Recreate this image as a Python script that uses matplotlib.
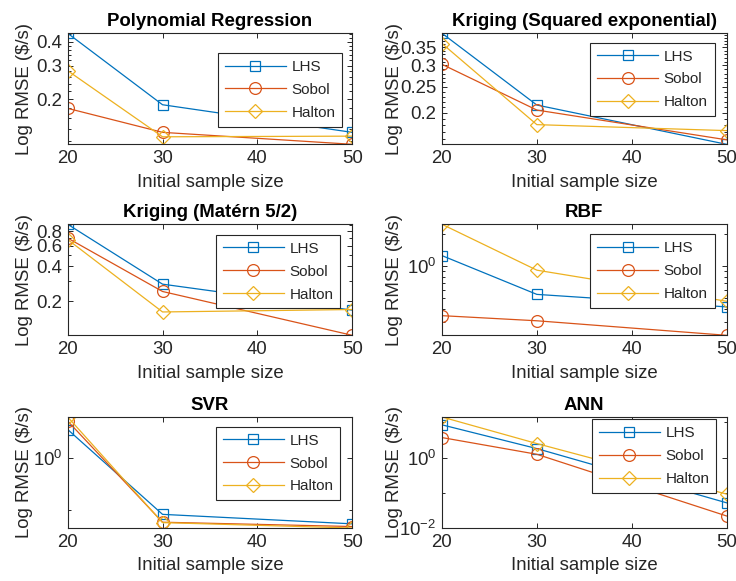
import numpy as np
import matplotlib
matplotlib.use('Agg')
import matplotlib.pyplot as plt
from matplotlib.ticker import FixedLocator, FuncFormatter, NullFormatter

plt.rcParams['font.family'] = ['Liberation Sans', 'DejaVu Sans']
plt.rcParams['mathtext.fontset'] = 'custom'
plt.rcParams['mathtext.rm'] = 'Liberation Sans'
plt.rcParams['mathtext.it'] = 'Liberation Sans:italic'

# sample sizes and RMSE values
sizes = [20, 30, 50]
titles = ['Polynomial Regression', 'Kriging (Squared exponential)',
          'Kriging (Matérn 5/2)', 'RBF', 'SVR', 'ANN']
labels = ['LHS', 'Sobol', 'Halton']

poly_lhs = [0.443, 0.187, 0.134]
poly_sobol = [0.179, 0.134, 0.116]
poly_halton = [0.282, 0.127, 0.128]

kse_lhs = [0.395, 0.214, 0.153]
kse_sobol = [0.303, 0.205, 0.159]
kse_halton = [0.362, 0.181, 0.172]

kmat_lhs = [0.92, 0.281, 0.168]
kmat_sobol = [0.70, 0.243, 0.102]
kmat_halton = [0.68, 0.162, 0.170]

rbf_lhs = [1.26, 0.545, 0.416]
rbf_sobol = [0.344, 0.308, 0.225]
rbf_halton = [2.48, 0.92, 0.47]

svr_lhs = [3.6, 0.081, 0.053]
svr_sobol = [5.25, 0.057, 0.047]
svr_halton = [6.3, 0.056, 0.044]

ann_lhs = [8.5, 1.8, 0.052]
ann_sobol = [3.7, 1.24, 0.022]
ann_halton = [14.2, 2.5, 0.092]

series = [
    [poly_lhs, poly_sobol, poly_halton],
    [kse_lhs, kse_sobol, kse_halton],
    [kmat_lhs, kmat_sobol, kmat_halton],
    [rbf_lhs, rbf_sobol, rbf_halton],
    [svr_lhs, svr_sobol, svr_halton],
    [ann_lhs, ann_sobol, ann_halton],
]

major_ticks = [[0.2, 0.3, 0.4], [0.2, 0.25, 0.3, 0.35], [0.2, 0.4, 0.6, 0.8],
               [1.0], [1.0], [0.01, 1.0]]
minor_ticks = [np.arange(0.10, 0.46, 0.02), np.arange(0.15, 0.41, 0.01),
               np.arange(0.1, 1.0, 0.1),
               [0.2, 0.3, 0.4, 0.5, 0.6, 0.7, 0.8, 0.9, 2, 3],
               [0.1, 10], [0.1, 10]]
power_labels = [False, False, False, True, True, True]
ylim_low = [None, None, None, None, None, 0.01]

colors = ['#0072BD', '#D95319', '#EDB120']
markers = ['s', 'o', 'D']
msizes = [7.5, 8.5, 7.5]
dark = '#262626'

# layout (figure pixels) of the axes and legends
ax_left = [67.7, 442]
ax_top = [33.3, 224.3, 417]
ax_w, ax_h = 284.5, 111
leg_anchor = [(0.965, 0.822), (0.958, 0.915), (0.958, 0.904),
              (0.958, 0.910), (0.958, 0.912), (0.964, 0.979)]
ylab_x = [-0.123, -0.138]

W, H = 736, 581
fig = plt.figure(figsize=(W / 100, H / 100), dpi=100)

for i in range(6):
    r, c = divmod(i, 2)
    ax = fig.add_axes([ax_left[c] / W, 1 - (ax_top[r] + ax_h) / H, ax_w / W, ax_h / H])
    for k in range(3):
        ax.plot(sizes, series[i][k], color=colors[k], marker=markers[k],
                markersize=msizes[k], markerfacecolor='none', markeredgewidth=0.9,
                linewidth=0.9, label=labels[k])
    ax.set_yscale('log')
    allv = np.concatenate(series[i])
    lo = allv.min() if ylim_low[i] is None else ylim_low[i]
    ax.set_ylim(lo, allv.max())
    ax.set_xlim(20, 50)
    ax.set_xticks([20, 30, 40, 50])
    ax.yaxis.set_major_locator(FixedLocator(major_ticks[i]))
    ax.yaxis.set_minor_locator(FixedLocator(minor_ticks[i]))
    ax.yaxis.set_minor_formatter(NullFormatter())
    if power_labels[i]:
        ax.yaxis.set_major_formatter(FuncFormatter(
            lambda v, p: r'$10^{%d}$' % int(round(np.log10(v)))))
    else:
        ax.yaxis.set_major_formatter(FuncFormatter(lambda v, p: '%g' % v))
    ax.tick_params(which='both', direction='in', top=True, right=True,
                   colors=dark, labelsize=13.4, width=0.7)
    ax.tick_params(which='major', length=3.5, pad=4)
    ax.tick_params(which='minor', length=2)
    for s in ax.spines.values():
        s.set_linewidth(0.8)
        s.set_color(dark)
    ax.set_title(titles[i], fontsize=13.4, fontweight='bold', pad=5, color='black')
    ax.set_xlabel('Initial sample size', fontsize=13.4, color=dark, labelpad=5)
    ax.set_ylabel(r'Log RMSE (\$/s)', fontsize=13.4, color=dark)
    ax.yaxis.set_label_coords(ylab_x[c], 0.5)
    leg = ax.legend(loc='upper right', bbox_to_anchor=leg_anchor[i], fontsize=11,
                    handlelength=4.0, handletextpad=0.35, labelspacing=0.58,
                    borderpad=0.45, borderaxespad=0, fancybox=False,
                    framealpha=1, edgecolor=dark)
    leg.get_frame().set_linewidth(0.8)
    for t in leg.get_texts():
        t.set_color(dark)

fig.savefig('out.png', dpi=100)
